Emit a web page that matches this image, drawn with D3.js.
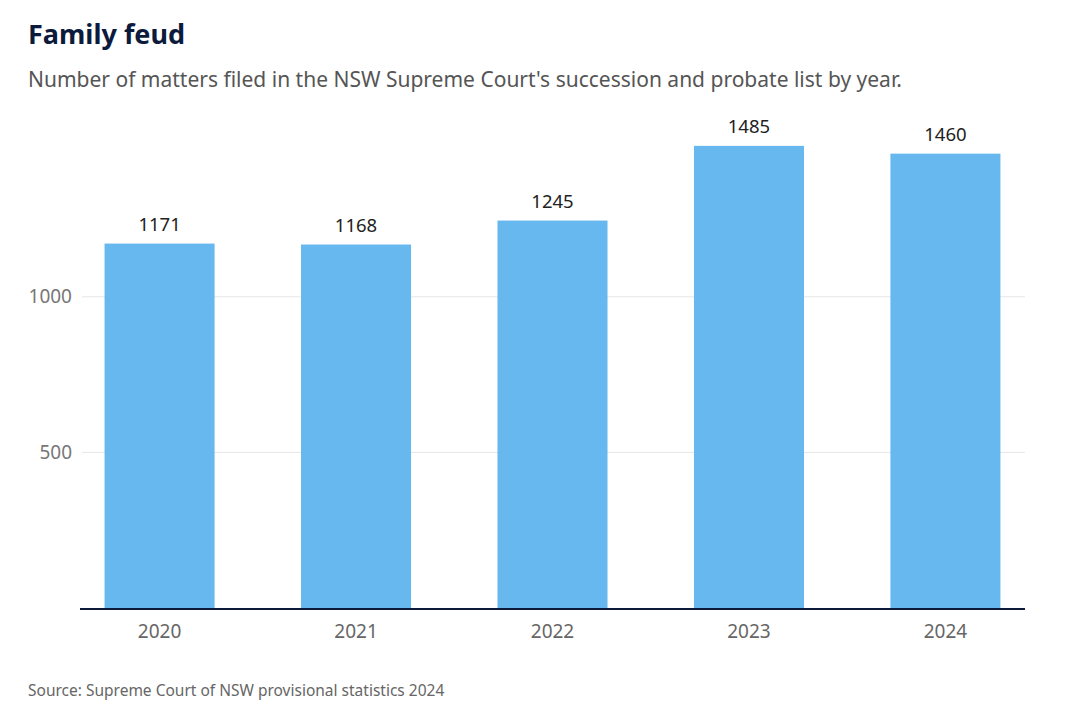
<!DOCTYPE html>
<html>
<head>
<meta charset="utf-8">
<script src="https://cdn.jsdelivr.net/npm/d3@7"></script>
<style>
body { margin: 0; background: #fff; }
text { font-family: "Noto Sans", sans-serif; }
</style>
</head>
<body>
<svg width="1080" height="713"></svg>
<script>
var years = ["2020", "2021", "2022", "2023", "2024"];
var matters = [1171, 1168, 1245, 1485, 1460];
var yTicks = [500, 1000];

var svg = d3.select("svg");

// title block
svg.append("text").attr("x", 28).attr("y", 44)
  .attr("font-size", 27).attr("font-weight", 700).attr("fill", "#0c1a3c")
  .text("Family feud");
svg.append("text").attr("x", 28).attr("y", 87)
  .attr("font-size", 21).attr("fill", "#555")
  .text("Number of matters filed in the NSW Supreme Court's succession and probate list by year.");
svg.append("text").attr("x", 28).attr("y", 696)
  .attr("font-size", 15.5).attr("fill", "#666")
  .text("Source: Supreme Court of NSW provisional statistics 2024");

var left = 80, right = 1025, top = 140, bottom = 608;

var x = d3.scaleBand().domain(years).range([left, right])
  .paddingInner(0.44).paddingOuter(0.125);
var y = d3.scaleLinear().domain([0, 1505]).range([bottom, bottom - 1505 * 0.3112]);

// gridlines
var grid = svg.append("g");
grid.selectAll("line").data(yTicks).enter().append("line")
  .attr("x1", left + 2).attr("x2", right)
  .attr("y1", d => y(d)).attr("y2", d => y(d))
  .attr("stroke", "#e6e6e6").attr("stroke-width", 1);

// y axis labels
svg.append("g").selectAll("text").data(yTicks).enter().append("text")
  .attr("x", 72).attr("y", d => y(d)).attr("dy", "0.35em")
  .attr("text-anchor", "end").attr("font-size", 19).attr("fill", "#777")
  .text(d => d);

// bars
var bars = svg.append("g");
bars.selectAll("rect").data(matters).enter().append("rect")
  .attr("x", (d, i) => x(years[i]))
  .attr("width", x.bandwidth())
  .attr("y", d => y(d))
  .attr("height", d => bottom - y(d))
  .attr("fill", "#66b8ee");

// value labels
svg.append("g").selectAll("text").data(matters).enter().append("text")
  .attr("x", (d, i) => x(years[i]) + x.bandwidth() / 2)
  .attr("y", d => y(d) - 13)
  .attr("text-anchor", "middle").attr("font-size", 18.5).attr("fill", "#222")
  .text(d => d);

// baseline
svg.append("line").attr("x1", left).attr("x2", right)
  .attr("y1", bottom + 1).attr("y2", bottom + 1)
  .attr("stroke", "#0c1a3c").attr("stroke-width", 2);

// x axis labels
var xAxis = d3.axisBottom(x).tickSize(0).tickPadding(15);
var gx = svg.append("g").attr("transform", "translate(0," + (bottom + 2) + ")").call(xAxis);
gx.select(".domain").remove();
gx.selectAll("text").attr("font-size", 19).attr("fill", "#666")
  .style("font-family", "\"Noto Sans\", sans-serif");
</script>
</body>
</html>
